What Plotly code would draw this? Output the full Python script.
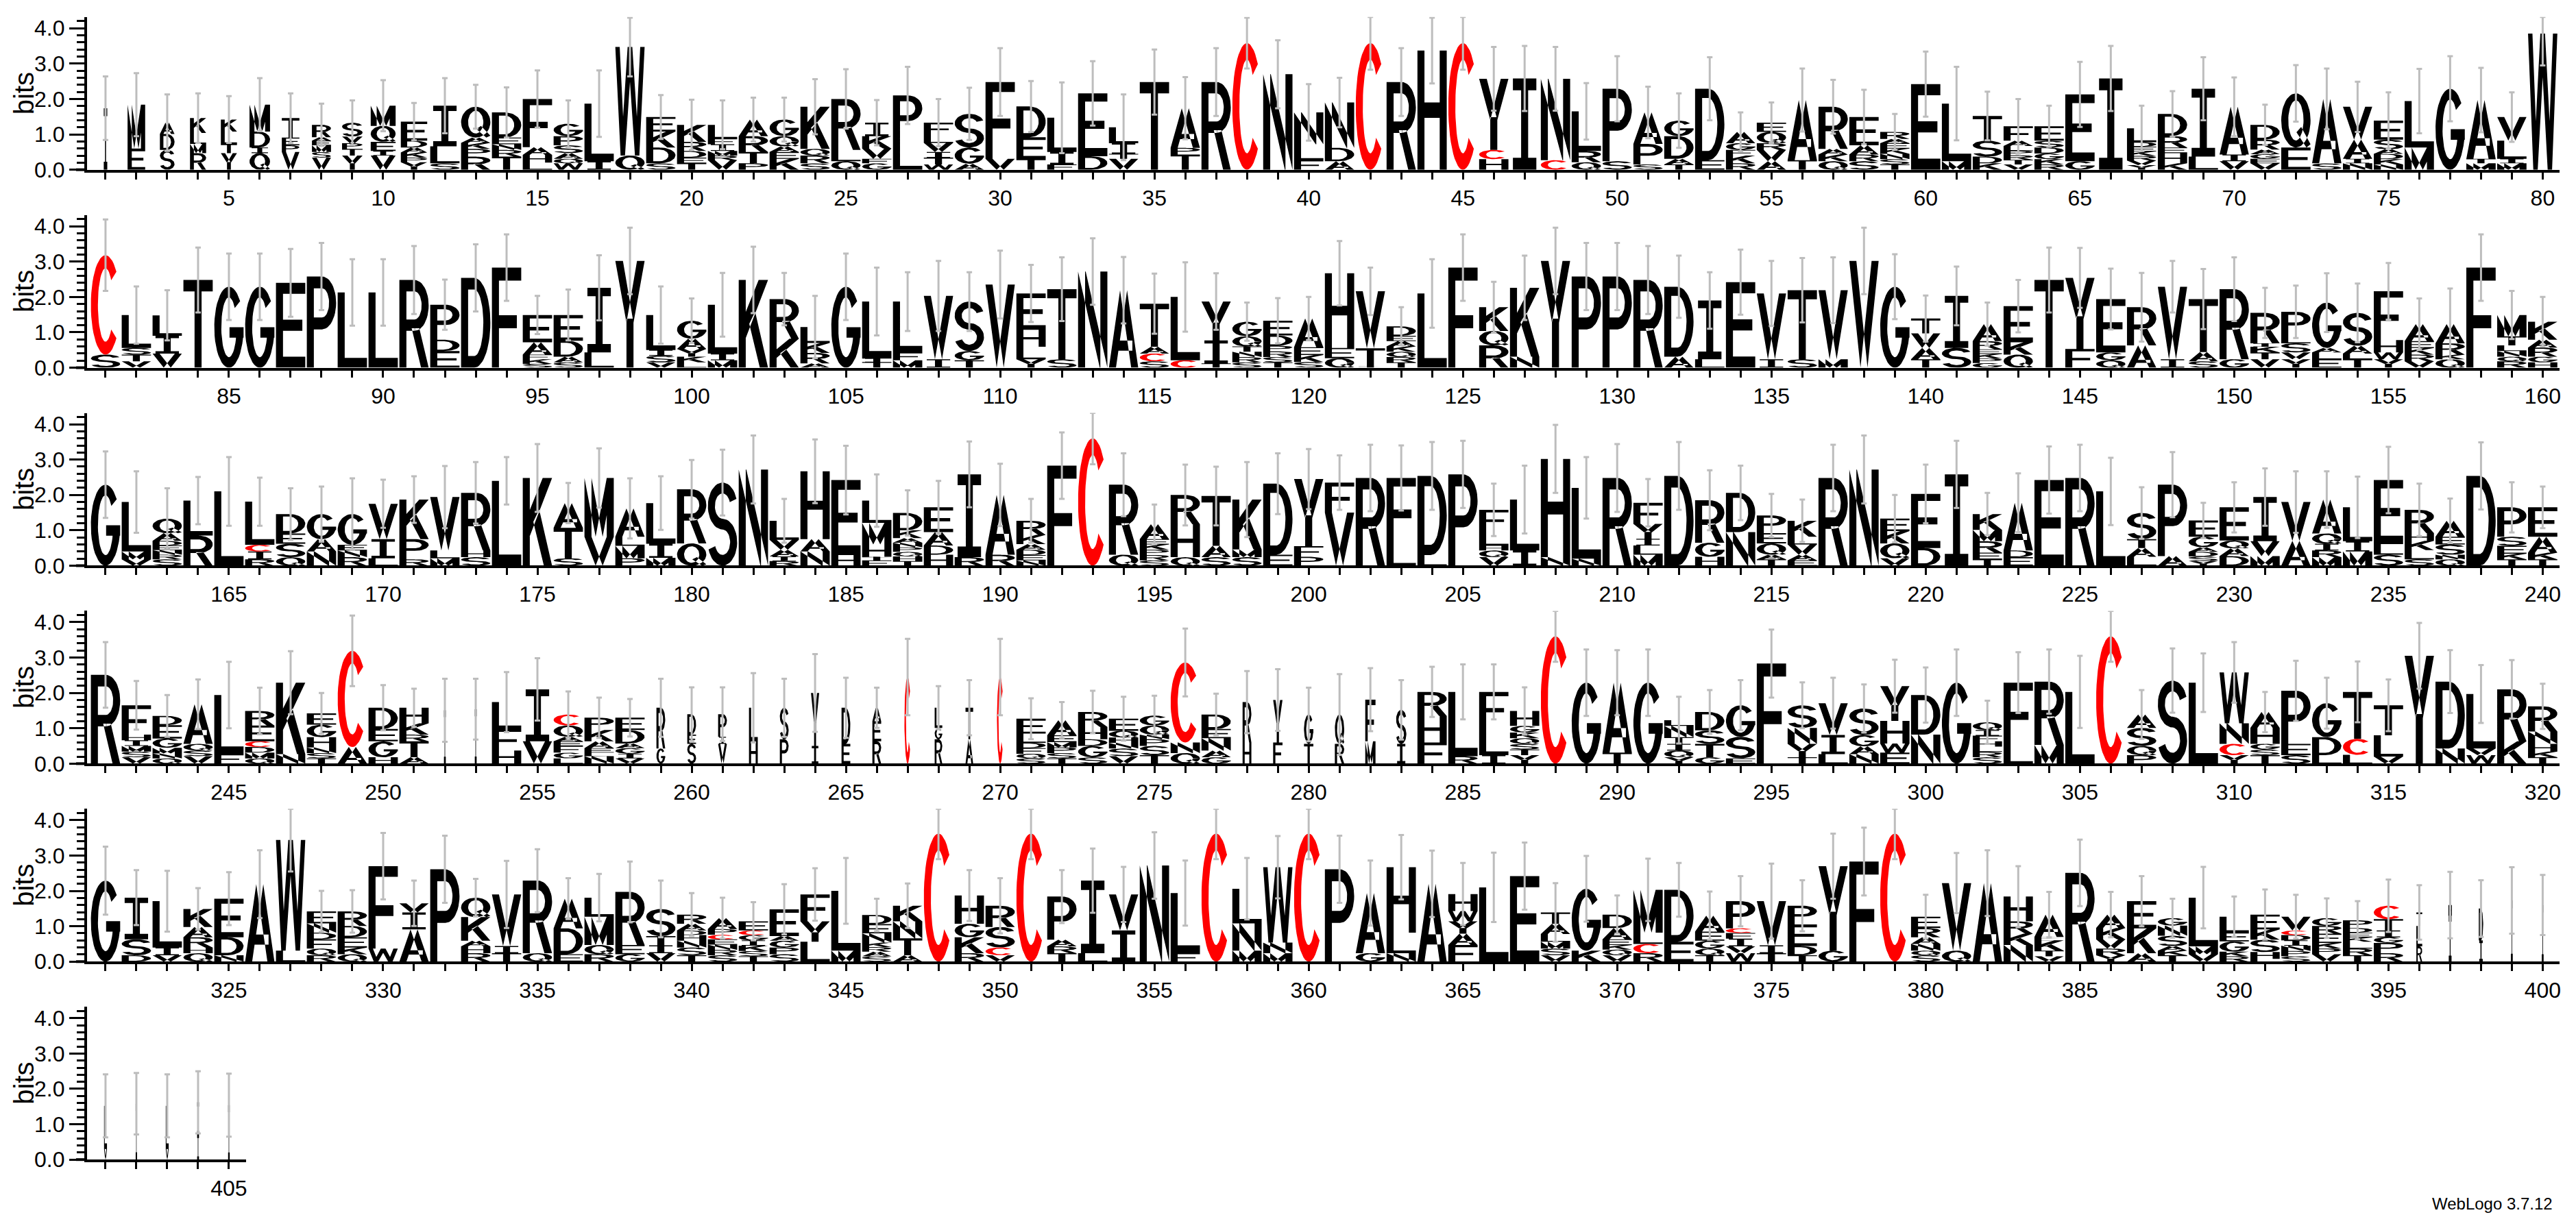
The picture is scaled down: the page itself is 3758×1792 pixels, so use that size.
import math
import plotly.graph_objects as go

# ---------------- data (stacks bottom -> top: letter + bits) ----------------
ROW1 = [
"I1.74", "E.6 M1.24", "S.56 D.45 A.32", "R.47 M.26 L.31 K.42", "Y.47 T.26 L.35 K.34",
"Q.47 I.16 D.45 M.76", "V.5 P.19 E.22 T.55", "V.34 S.16 M.19 E.13 A.1 R.35", "Y.4 T.19 P.16 V.19 S.39", "V.4 I.13 E.26 Q.45 M.57",
"Y.21 P.13 K.15 A.14 D.19 E.54", "S.18 L.48 I1.15", "R.37 P.22 K.17 A.15 Q.87", "T.37 R.19 N.16 E.19 D.71", "L.2 H.22 A.22 F1.36",
"W.18 Q.13 A.16 S.22 P.26 G.35", "I.24 L1.63", "Q.4 W3.07", "S.18 D.45 K.45 E.41", "T.18 E.16 D.19 R.26 K.48",
"V.27 R.13 M.13 I.19 F.16 L.39", "P.18 T.32 R.45 A.47", "K.31 E.19 A.16 Q.29 G.47", "S.18 R.22 Q.19 K1.19", "Q.24 L.32 R1.44",
"G.18 F.13 V.29 K.35 I.38", "L.85 P1.25", "W.15 T.19 I.16 V.26 L.22 F.35", "A.17 G.46 S.95", "V.31 F2.17",
"T.31 E.61 D.87", "F.15 I.35 L.97", "D.38 E1.78", "V.31 T.14 I.3 L.45", "T2.48",
"T.43 P.19 A1.12", "R2.48", "C3.58", "N2.7", "F.27 L.45 N.9",
"A.24 D.38 N1.28", "C3.58", "R2.48", "H3.37", "C3.58",
"H.3 C.26 Y2.01", "I2.58", "C.27 N2.3", "Q.21 R.32 L1.12", "S.24 P2.05",
"S.15 P.58 A.89", "T.15 A.16 D.64 G.44", "E.27 D2.02", "R.18 K.22 F.16 G.19 A.32", "A.24 V.32 R.19 Q.32 E.26",
"T.27 A1.7", "Q.24 K.19 A.16 R1.19", "S.24 R.19 A.26 E.8", "T.15 S.15 N.15 K.15 E.15 A.12 R.2", "E2.42",
"M.24 L1.63", "K.18 D.19 S.45 T.7", "V.15 T.13 R.13 P.13 L.13 A.15 F.41", "R.15 K.15 G.16 D.17 S.19 E.41", "G.24 E1.89",
"I2.58", "Y.13 V.13 R.13 K.13 E.13 D.13 L.39", "K.18 H.29 E.16 R.32 D.63", "L.37 I1.92", "V.24 I.19 A1.35",
"V.18 E.13 G.13 A.13 R.28 D.42", "E.63 Q1.53", "S.18 A1.82", "N.18 I.13 A.54 V.93", "N.15 K.15 D.15 A.13 S.27 E.54",
"M.63 L1.31", "G2.29", "M.18 T.13 A1.66", "M.18 I.13 L.51 V.67", "W3.85",
]
ERR1 = [0.9,0.89,0.8,0.7,0.66, 0.75,0.7,0.6,0.63,0.72, 0.53,0.78,0.62,0.71,0.81, 0.66,0.94,0.83,0.62,0.71,
        0.69,0.62,0.62,0.78,0.84, 0.64,0.81,0.67,0.74,0.96, 0.72,1.0,0.91,0.93,0.92, 0.88,0.96,0.72,0.96,0.8,
        0.7,0.75,0.96,0.93,0.75, 0.9,0.92,0.9,0.8,0.92, 0.73,0.77,0.89,0.55,0.57, 0.89,0.76,0.77,0.51,0.92,
        1.04,0.69,0.77,0.58,0.92, 0.92,0.64,0.64,0.89,0.83, 0.57,0.8,0.86,0.71,0.8, 0.91,0.92,0.91,0.7,0.9]

ROW2 = [
"S.37 C2.81", "V.18 T.19 S.19 L.93", "V.4 I.5 L.58", "T2.48", "G2.29",
"G2.29", "E2.4", "P2.58", "L2.13", "L2.13",
"R2.48", "E.47 D.32 P.99", "D2.54", "F2.83", "S.11 K.13 F.13 A.35 E.77",
"S.15 A.16 D.45 E.73", "L.43 I1.83", "Y3.02", "V.15 S.19 I.16 L.99", "L.15 K.16 Y.22 A.29 G.51",
"M.21 I.19 L1.38", "K2.48", "K.82 R1.12", "A.12 R.3 K.28 L.45", "G2.29",
"T.16 I.1 L1.61", "M.21 F.22 L1.44", "I.24 V1.79", "T.21 G.26 S1.4", "V2.35",
"Y.24 L.35 H.48 E1.03", "S.24 T1.98", "N2.72", "A2.19", "S.18 C.22 A.19 T1.22",
"C.21 L1.79", "T.12 I.65 Y1.1", "S.15 R.15 N.15 T.15 Q.29 G.41", "T.15 S.15 R.16 P.16 D.29 E.42", "S.16 K.2 E.22 A.81",
"Q.27 E.29 H2.11", "I.05 T.5 V1.61", "T.15 R.15 Q.15 K.15 A.15 E.15 D.27", "L2.1", "F2.83",
"R.63 Q.41 K.67", "N.31 K1.95", "Y3.02", "P2.58", "P2.58",
"R2.48", "A.31 D1.98", "L.24 I1.66", "E2.42", "I.24 V1.86",
"S.24 T1.95", "M.24 V1.95", "V3.02", "G2.29", "T.24 A.32 V.41 T.42",
"S.56 I1.47", "G.13 P.13 K.13 E.13 R.23 A.48", "Q.37 K.35 E1.02", "T2.48", "F.53 Y2.01",
"Q.21 G.22 E1.51", "A.63 R1.08", "I.24 V2.05", "S.18 A.26 T1.5", "G.24 R1.98",
"V.24 T.19 K.16 I.1 R.86", "Y.24 V.19 S.26 L.22 P.67", "E.24 L.19 A.13 G1.28", "T.24 L.16 A.22 S.93", "Y.24 W.19 H.35 F1.38",
"V.18 R.19 K.19 E.19 A.48", "Q.24 K.13 R.32 A.54", "F2.83", "R.18 Q.13 N.16 L.16 T.26 M.6", "H.15 G.16 R.26 A.22 K.51",
]
ERR2 = [1.01,0.81,0.71,0.92,0.94, 0.94,0.96,0.95,0.94,0.94, 0.96,0.71,0.95,0.94,0.54, 0.72,0.92,0.94,0.81,0.63,
        0.9,0.94,0.74,0.88,0.94, 0.96,0.83,0.99,0.83,0.96, 0.81,0.9,0.94,0.94,0.85, 0.98,0.8,0.54,0.64,0.61,
        0.91,0.67,0.54,0.97,0.94, 0.72,0.91,0.94,0.95,0.95, 0.96,0.88,0.8,0.92,0.92, 0.91,0.93,0.94,0.92,0.65,
        0.83,0.61,0.74,0.92,0.85, 0.86,0.97,0.73,0.85,0.9, 0.71,0.74,0.83,0.83,0.8, 0.73,1.01,0.94,0.68,0.7]

ROW3 = [
"G2.29", "V.18 M.22 L1.4", "S.18 R.13 N.13 E.13 D.13 A.22 Q.41", "R.85 L.99", "L2.1",
"R.18 I.22 C.19 L1.22", "Q.24 S.38 E.29 D.55", "N.4 A.35 G.71", "R.24 N.19 E.16 G.87", "L.21 I.54 V1.0",
"R.18 P.57 K1.12", "M.21 L.22 V1.51", "S.24 H.19 R1.63", "L2.4", "K2.48",
"S.21 T.86 A.7", "V.82 M1.66", "P.21 M.35 L.26 A.8", "M.22 I.4 L1.15", "Q.63 R1.53",
"S2.35", "N2.72", "R.13 I.13 A.19 V.28 L.54", "N.4 A.35 H1.92", "H.3 E2.12",
"F.15 T.1 H.35 M.61 L.63", "T.13 H.13 Q.13 P.13 N.13 A.13 K.22 D.49", "H.31 D.26 A.38 E.7", "R.24 I2.34", "R.31 A1.69",
"N.15 E.15 D.15 A.16 K.26 R.4", "F2.83", "C3.6", "Q.31 R1.98", "S.15 R.15 P.15 K.15 E.15 A.42",
"Q.24 H.93 R.83", "S.24 A.32 T1.41", "S.24 M.22 K1.41", "E.31 D2.01", "P.25 F.3 Y1.9",
"V1.5 F.85", "R2.48", "L.6 F1.88", "L.3 D2.24", "P2.58",
"V.24 Q.19 H.13 L.45 F.57", "I.43 L1.44", "N.24 H2.78", "N.2 L2.0", "R2.48",
"M.31 L.26 I.19 Y.42 F.6", "D2.54", "H.25 G.4 R1.2", "N.95 D1.11", "T.18 A.13 Q.32 E.29 P.5",
"E.15 A.16 V.29 L.22 K.45", "R2.48", "N2.72", "V.21 Q.42 K.35 E.35", "D.5 E1.53",
"I2.58", "T.18 E.19 R.32 M.32 K.45", "E.24 D.19 A1.35", "E2.42", "R2.48",
"L2.1", "L.25 A.25 T.25 S.74", "A.27 P2.02", "Y.13 S.13 D.13 A.13 G.3 E.46", "D.27 A.22 Q.22 E.94",
"M.27 V.42 I1.25", "A.7 V1.1", "M.24 R.19 I.19 Q.29 A.96", "M.4 I.29 L.96", "S.31 L.3 E1.81",
"S.18 L.26 K.26 H.22 R.66", "Q.18 N.13 S.29 E.22 A.45", "D2.54", "T.18 K.16 E.22 S.26 P.83", "T.18 K.19 A.45 E.83",
]
ERR3 = [0.94,0.87,0.86,0.67,0.97, 0.68,0.73,0.78,1.01,0.68, 0.66,0.88,0.87,0.67,0.96, 0.57,0.84,0.85,0.76,0.83,
        0.93,0.96,0.62,0.9,0.97, 0.74,0.64,0.75,0.93,0.88, 0.62,0.94,0.73,0.89,0.56, 0.86,0.83,1.06,0.86,0.85,
        0.77,0.94,0.92,0.96,0.95, 0.74,0.96,0.96,0.87,0.96, 0.67,0.96,0.85,0.77,0.61, 0.6,0.94,0.96,0.67,0.83,
        0.95,0.6,0.83,0.95,0.94, 0.95,0.73,0.92,0.5,0.71, 0.81,0.87,0.8,0.87,0.94, 0.74,0.63,0.95,0.71,0.59]

ROW4 = [
"R2.51", "V.18 S.16 M.16 I.16 H.16 F.83", "Q.15 N.14 M.16 G.26 E.38 D.26", "V.21 S.16 Q.19 A1.12", "F.27 L1.67",
"Q.15 M.16 D.16 C.16 E.45 R.41", "N.27 K2.02", "T.15 S.15 N.16 H.29 G.35 E.32", "A.47 C2.72", "H.18 G.45 E.35 D.6",
"A.18 T.45 R.19 K.32 H.44", "I1.51", "I1.54", "H.37 F.61 L.76", "V.63 I1.47",
"L.15 G.16 F.19 E.13 A.13 Q.32 C.31", "N.21 L.1 E.13 A.19 K.32 P.35", "V.15 I.13 G.16 A.13 D.38 E.35", "G.43 R1.15", "S.56 E.26 D.58",
"V.56 I.2 P.64", "H.63 L.95", "P.69 S.89", "I.5 Y1.5", "E.56 D1.02",
"R.63 E.57 A.38", "C2.45", "R.69 G.32 L.57", "A.69 T.89", "C2.45",
"S.15 Q.13 F.16 D.15 L.26 E.42", "T.15 S.15 P.16 M.15 E.19 A.43", "S.18 G.32 D.19 H.35 R.42", "V.21 S.22 N.16 H.15 Q.19 E.34", "T.24 S.26 P.19 N.13 Q.26 G.28",
"Q.3 N.3 C2.26", "G.18 A.19 N.35 E.26 D.41", "H.6 R1.14", "F.6 Y1.2", "T.56 G.83",
"R.56 Q.83", "M.63 F1.18", "I.56 S.96", "F.6 H.75 R.68", "R.21 L1.82",
"I.24 L.83 F.96", "Y.24 T.16 S.16 Q.16 K.16 G.19 H.42", "C3.6", "G2.29", "T.31 A1.98",
"G2.29", "Y.18 Q.19 I.19 T.19 N.32 L.16", "G.18 T.38 S.38 D.52", "E.15 S.61 G.89", "F2.83",
"T.18 Y.38 N.45 S.64", "L.27 I.54 V.9", "N.27 A.22 G.32 S.75", "E.31 W.26 H.64 Y.98", "N.82 D1.12",
"G2.29", "S.18 R.15 L.15 H.15 F.16 I.16 Q.22", "L.55 F1.74", "M.53 R1.79", "L2.03",
"C3.6", "P.24 Q.26 S.51 A.38", "S2.35", "L2.29", "Y.24 C.32 N.58 W1.44",
"T.24 S.16 G.16 H.45 A.45", "S.24 E.32 P1.5", "L.24 D.51 G.96", "L.25 C.45 T1.33", "V.2 L.6 T.85",
"Y3.05", "N.43 D1.89", "W.24 V.19 L1.54", "K.63 R1.47", "T.18 K.16 H.22 N.35 R.71",
]
ERR4 = [0.93,0.69,0.59,0.7,0.94, 0.66,0.89,0.58,1.0,0.64, 0.54,0.89,0.86,0.85,0.88, 0.65,0.57,0.53,0.82,0.76,
        0.76,0.98,0.82,1.1,0.85, 0.57,1.08,0.61,0.78,1.08, 0.58,0.51,0.6,0.62,0.56, 0.96,0.59,0.88,0.87,0.76,
        1.14,0.89,0.84,0.71,0.78, 0.78,0.67,0.72,0.94,0.92, 0.94,0.66,0.62,0.71,0.96, 0.65,0.72,0.68,0.75,0.78,
        0.94,0.61,0.86,0.91,1.02, 0.72,0.69,0.91,0.83,0.86, 0.57,0.85,0.72,0.86,0.73, 0.93,0.89,0.82,0.83,0.64]

ROW5 = [
"G2.29", "D.18 S.45 I1.18", "V.18 I.22 L1.31", "Q.24 H.16 R.29 A.29 K.51", "N.18 D.51 E1.09",
"A2.19", "L.31 W3.13", "R.18 Q.19 F.26 D.19 N.26 E.34", "Q.21 K.19 E.29 D.32 R.41", "W.37 F2.33",
"A.91 I.48 V.26", "P2.61", "R.24 H.19 A.16 K.67 Q.55", "T.24 I.2 V1.46", "Q.24 R2.05",
"E.21 D.73 A.84", "R.21 Q.26 M.8 L.54", "G.21 E.26 R1.5", "V.24 I.22 T.26 S.77", "T.18 S.22 N.19 H.16 D.13 A.19 R.26",
"S.18 R.15 N.15 E.15 C.13 P.16 A.31", "T.15 S.15 K.15 I.15 G.15 C.13 E.26", "S.21 P.19 G.19 A.13 E.76", "L.56 Y.58 F.76", "M.31 L1.69",
"S.15 A.13 R.13 K.13 N.26 E.26 D.26", "A.18 T.48 N.48 K.44", "C3.62", "R.24 K.45 G.38 H.8", "V.18 C.22 S.58 R.6",
"C3.62", "T.24 R.19 A.19 P1.22", "L.24 I2.05", "I.88 V1.02", "N2.72",
"F.24 L1.7", "C3.62", "M.31 N.77 L.98", "M.24 N.3 W2.13", "C3.62",
"P2.61", "G.24 A1.7", "N.24 L.58 H1.85", "A2.2", "F.47 A.32 Y.35 W.29 H.48",
"L2.1", "E2.42", "V.18 S.19 M.19 L.22 A.29 T.32", "K.31 G1.75", "V.18 Q.16 K.13 E.16 A.32 D.38",
"R.24 C.26 L.32 M1.21", "E.56 D1.47", "T.18 Q.19 G.22 E.26 A.45", "W.24 V.19 I.22 F.16 C.13 P.77", "T.24 I.22 V1.25",
"T.18 D.26 E.61 P.53", "G.31 Y2.39", "F2.83", "C3.62", "S.18 Q.13 N.19 A.19 R.26 E.32",
"Q.31 V1.91", "A2.22", "N.47 K.32 R.35 H.7", "V.15 T.16 K.29 E.1 A.63", "R2.51",
"Y.18 R.19 V.26 K.32 A.38", "A.24 K.7 E.77", "T.18 K.13 A.13 S.29 N.29 G.21", "V.21 M.22 L1.38", "R.15 K.13 G.29 E.26 L.44",
"L.08 H.19 S.35 K.29 E.42", "S.15 P.15 N.15 I.15 D.15 C.13 V.39", "V.21 P.16 K.16 E.26 R.22 G.22", "T.18 R.19 L.19 K.13 E.13 D.13 P.22", "R.24 P.29 G.16 I.19 T.32 C.38",
"R.43 L.58 T.38", "I1.3 H.3", "I.6 D.9", "I1.73", "I1.6",
]
ERR5 = [0.96,0.78,0.86,0.59,0.75, 0.96,0.89,0.58,0.6,0.94, 0.64,0.95,0.53,0.95,0.89, 0.58,0.67,0.86,0.8,0.61,
        0.58,0.54,0.71,0.74,0.93, 0.46,0.63,0.72,0.72,0.78, 0.72,0.75,0.91,0.78,0.94, 0.92,0.72,0.87,0.88,0.72,
        0.95,0.92,0.91,0.94,0.88, 0.98,0.95,0.83,0.93,0.54, 0.88,0.76,0.68,0.71,1.06, 0.72,0.92,0.96,0.72,0.62,
        0.85,0.93,0.86,0.64,0.94, 0.64,0.71,0.55,0.87,0.57, 0.71,0.62,0.56,0.54,0.74, 0.77,0.94,0.8,0.94,0.85]

ROW6 = ["V.3 L1.22", "I1.58", "V.3 L1.22", "I.7 I.92", "I1.54"]
ERR6 = [0.89, 0.87, 0.89, 0.88, 0.89]

# relative stack widths (positions with many gaps are drawn narrow)
NARROW = {1: 0.15, 2: 0.6, 3: 0.5, 4: 0.55, 5: 0.55, 6: 0.7, 7: 0.6, 8: 0.65, 9: 0.7, 10: 0.85, 11: 0.9,
          252: 0.08, 253: 0.08, 259: 0.3, 260: 0.3, 261: 0.3, 262: 0.3, 263: 0.3, 264: 0.28, 265: 0.3,
          266: 0.3, 267: 0.22, 268: 0.26, 269: 0.26, 270: 0.22, 278: 0.3, 279: 0.32, 280: 0.32, 281: 0.32,
          282: 0.35, 283: 0.35, 396: 0.2, 397: 0.12, 398: 0.15, 399: 0.08, 400: 0.08,
          401: 0.1, 402: 0.06, 403: 0.1, 404: 0.08, 405: 0.07}

ROWS = [ROW1, ROW2, ROW3, ROW4, ROW5, ROW6]
ERRS = [ERR1, ERR2, ERR3, ERR4, ERR5, ERR6]
YMAX = 4.32
FONT = "Liberation Sans, Arial, sans-serif"
RED = "#ff0000"

# ---------------- glyph outlines in a unit box ----------------
SV, SH = 0.24, 0.13


def rect(x0, y0, x1, y1):
    return [(x0, y0), (x1, y0), (x1, y1), (x0, y1)]


def arc(cx, cy, rxo, ryo, rxi, ryi, a0, a1, n=32):
    pts = []
    for i in range(n + 1):
        t = math.radians(a0 + (a1 - a0) * i / n)
        pts.append((cx + rxo * math.cos(t), cy + ryo * math.sin(t)))
    for i in range(n, -1, -1):
        t = math.radians(a0 + (a1 - a0) * i / n)
        pts.append((cx + rxi * math.cos(t), cy + ryi * math.sin(t)))
    return pts


STEM = rect(0, 0, SV, 1)
P_PARTS = [STEM, rect(0, 1 - SH, 0.53, 1), rect(0, 0.42, 0.53, 0.42 + SH),
           arc(0.52, 0.71, 0.48, 0.29, 0.48 - SV, 0.29 - SH, -90, 90, 24)]
GLYPHS = {
    "A": [[(0, 0), (0.24, 0), (0.62, 1), (0.38, 1)], [(1, 0), (0.76, 0), (0.38, 1), (0.62, 1)],
          rect(0.2, 0.22, 0.8, 0.22 + SH)],
    "C": [arc(0.5, 0.5, 0.5, 0.5, 0.5 - SV, 0.5 - SH, 42, 318, 40)],
    "D": [STEM, rect(0, 1 - SH, 0.46, 1), rect(0, 0, 0.46, SH),
          arc(0.45, 0.5, 0.55, 0.5, 0.55 - SV, 0.5 - SH, -90, 90, 30)],
    "E": [STEM, rect(0, 1 - SH, 1, 1), rect(0, 0.5 - SH / 2, 0.9, 0.5 + SH / 2), rect(0, 0, 1, SH)],
    "F": [STEM, rect(0, 1 - SH, 1, 1), rect(0, 0.46 - SH / 2, 0.85, 0.46 + SH / 2)],
    "G": [arc(0.5, 0.5, 0.5, 0.5, 0.5 - SV, 0.5 - SH, 40, 360, 40), rect(0.52, 0.5 - SH, 1, 0.5)],
    "H": [STEM, rect(1 - SV, 0, 1, 1), rect(0, 0.5 - SH / 2, 1, 0.5 + SH / 2)],
    "I": [rect(0.5 - SV / 2, 0, 0.5 + SV / 2, 1), rect(0.1, 1 - SH, 0.9, 1), rect(0.1, 0, 0.9, SH)],
    "K": [STEM, [(0.22, 0.32), (1, 1), (0.68, 1), (0.22, 0.62)],
          [(0.36, 0.5), (0.56, 0.64), (1, 0), (0.72, 0)]],
    "L": [STEM, rect(0, 0, 1, SH)],
    "M": [STEM, rect(1 - SV, 0, 1, 1), [(0, 1), (0.24, 1), (0.62, 0), (0.38, 0)],
          [(1, 1), (0.76, 1), (0.38, 0), (0.62, 0)]],
    "N": [STEM, rect(1 - SV, 0, 1, 1), [(0, 1), (0.26, 1), (1, 0), (0.74, 0)]],
    "P": P_PARTS,
    "Q": [arc(0.5, 0.5, 0.5, 0.5, 0.5 - SV, 0.5 - SH, 0, 360, 48),
          [(0.52, 0.28), (0.68, 0.38), (1.0, 0.06), (0.86, 0.0)]],
    "R": P_PARTS + [[(0.42, 0.45), (0.68, 0.45), (1, 0), (0.74, 0)]],
    "S": [arc(0.5, 0.7175, 0.5, 0.2825, 0.5 - SV, 0.1525, 18, 270, 30),
          arc(0.5, 0.2825, 0.5, 0.2825, 0.5 - SV, 0.1525, 90, -162, 30)],
    "T": [rect(0, 1 - SH, 1, 1), rect(0.5 - SV / 2, 0, 0.5 + SV / 2, 1)],
    "V": [[(0, 1), (0.24, 1), (0.62, 0), (0.38, 0)], [(1, 1), (0.76, 1), (0.38, 0), (0.62, 0)]],
    "W": [[(0, 1), (0.15, 1), (0.33, 0), (0.18, 0)], [(0.42, 1), (0.58, 1), (0.33, 0), (0.18, 0)],
          [(0.42, 1), (0.58, 1), (0.82, 0), (0.67, 0)], [(0.85, 1), (1, 1), (0.82, 0), (0.67, 0)]],
    "Y": [[(0, 1), (0.26, 1), (0.62, 0.42), (0.38, 0.42)], [(1, 1), (0.74, 1), (0.38, 0.42), (0.62, 0.42)],
          rect(0.38, 0, 0.62, 0.46)],
}


def parse(stack):
    out = []
    for tok in stack.split():
        out.append((tok[0], float(tok[1:])))
    return out


# ---------------- layout geometry ----------------
W, H = 3758, 1792
PX_PER_POS = 45.03
X_LEFT = 127
PX_PER_BIT = 52.15

fig = go.Figure()
layout = {}
annotations = []
shapes = []

for r in range(6):
    stacks = ROWS[r]
    errs = ERRS[r]
    start = 80 * r + 1
    npos = len(stacks)
    xr = [start - 0.6, start + npos - 0.45]
    xa = "x" if r == 0 else f"x{r + 1}"
    ya = "y" if r == 0 else f"y{r + 1}"

    bx, by, rx, ry = [], [], [], []
    tops, plus, minus, posl = [], [], [], []
    for i, s in enumerate(stacks):
        p = start + i
        wf = NARROW.get(p, 1.0)
        lw = 0.95 * wf
        x0 = p - lw / 2
        yb = 0.0
        for ch, h in parse(s):
            tx, ty = (rx, ry) if ch == "C" else (bx, by)
            for poly in GLYPHS[ch]:
                for (u, v) in poly:
                    tx.append(x0 + u * lw)
                    ty.append(yb + v * h)
                tx.append(None)
                ty.append(None)
            yb += h
        posl.append(p)
        tops.append(yb)
        e = errs[i]
        plus.append(max(0.0, min(e, YMAX - yb)))
        minus.append(e)

    for xs, ys, col in ((bx, by, "black"), (rx, ry, RED)):
        if xs:
            fig.add_trace(go.Scatter(x=xs, y=ys, mode="lines", fill="toself", fillcolor=col,
                                     line=dict(width=0, color=col), xaxis=xa, yaxis=ya,
                                     hoverinfo="skip", showlegend=False))
    fig.add_trace(go.Scatter(x=posl, y=tops, mode="markers",
                             marker=dict(size=1, color="rgba(0,0,0,0)"),
                             error_y=dict(type="data", symmetric=False, array=plus, arrayminus=minus,
                                          color="#bdbdbd", thickness=3, width=4),
                             xaxis=xa, yaxis=ya, hoverinfo="skip", showlegend=False))

    base_px = 249.3 + 292 * r
    top_px = base_px - YMAX * PX_PER_BIT
    right_px = X_LEFT + (xr[1] - xr[0]) * PX_PER_POS
    ydom = [1 - base_px / H, 1 - top_px / H]
    xdom = [X_LEFT / W, right_px / W]

    tickvals = list(range(start, start + npos))
    ticktext = [str(v) if v % 5 == 0 else "" for v in tickvals]

    layout["xaxis" if r == 0 else f"xaxis{r + 1}"] = dict(
        domain=xdom, range=xr, anchor=ya, showline=True, linecolor="black", linewidth=4,
        ticks="outside", ticklen=10, tickwidth=3, tickcolor="black",
        tickmode="array", tickvals=tickvals, ticktext=ticktext,
        tickfont=dict(size=32, family=FONT, color="black"),
        showgrid=False, zeroline=False, fixedrange=True)
    layout["yaxis" if r == 0 else f"yaxis{r + 1}"] = dict(
        domain=ydom, range=[0, YMAX], anchor=xa, showline=True, linecolor="black", linewidth=4,
        ticks="outside", ticklen=22, tickwidth=3, tickcolor="black",
        tickmode="linear", tick0=0, dtick=1, tickformat=".1f",
        minor=dict(ticks="outside", ticklen=11, tickwidth=3, tickcolor="black", dtick=0.2, tick0=0,
                   showgrid=False),
        tickfont=dict(size=32, family=FONT, color="black"),
        showgrid=False, zeroline=False, fixedrange=True)

    # baseline extends slightly left of the y axis, as in the original
    shapes.append(dict(type="line", xref="paper", yref="paper", x0=111 / W, x1=X_LEFT / W,
                       y0=ydom[0], y1=ydom[0], line=dict(color="black", width=4)))

    annotations.append(dict(text="bits", x=35 / W, y=(ydom[0] + ydom[1]) / 2, xref="paper", yref="paper",
                            xanchor="center", yanchor="middle", textangle=-90, showarrow=False,
                            font=dict(size=40, family=FONT, color="black")))

annotations.append(dict(text="WebLogo 3.7.12", x=3728 / W, y=1 - 1774 / H, xref="paper", yref="paper",
                        xanchor="right", yanchor="middle", showarrow=False,
                        font=dict(size=24, family=FONT, color="black")))

fig.update_layout(width=W, height=H, margin=dict(l=0, r=0, t=0, b=0),
                  paper_bgcolor="white", plot_bgcolor="white", showlegend=False,
                  annotations=annotations, shapes=shapes, **layout)

fig.write_html("out.html", config={"displayModeBar": False},
               post_script="document.body.style.margin='0';document.body.style.overflow='hidden';")
